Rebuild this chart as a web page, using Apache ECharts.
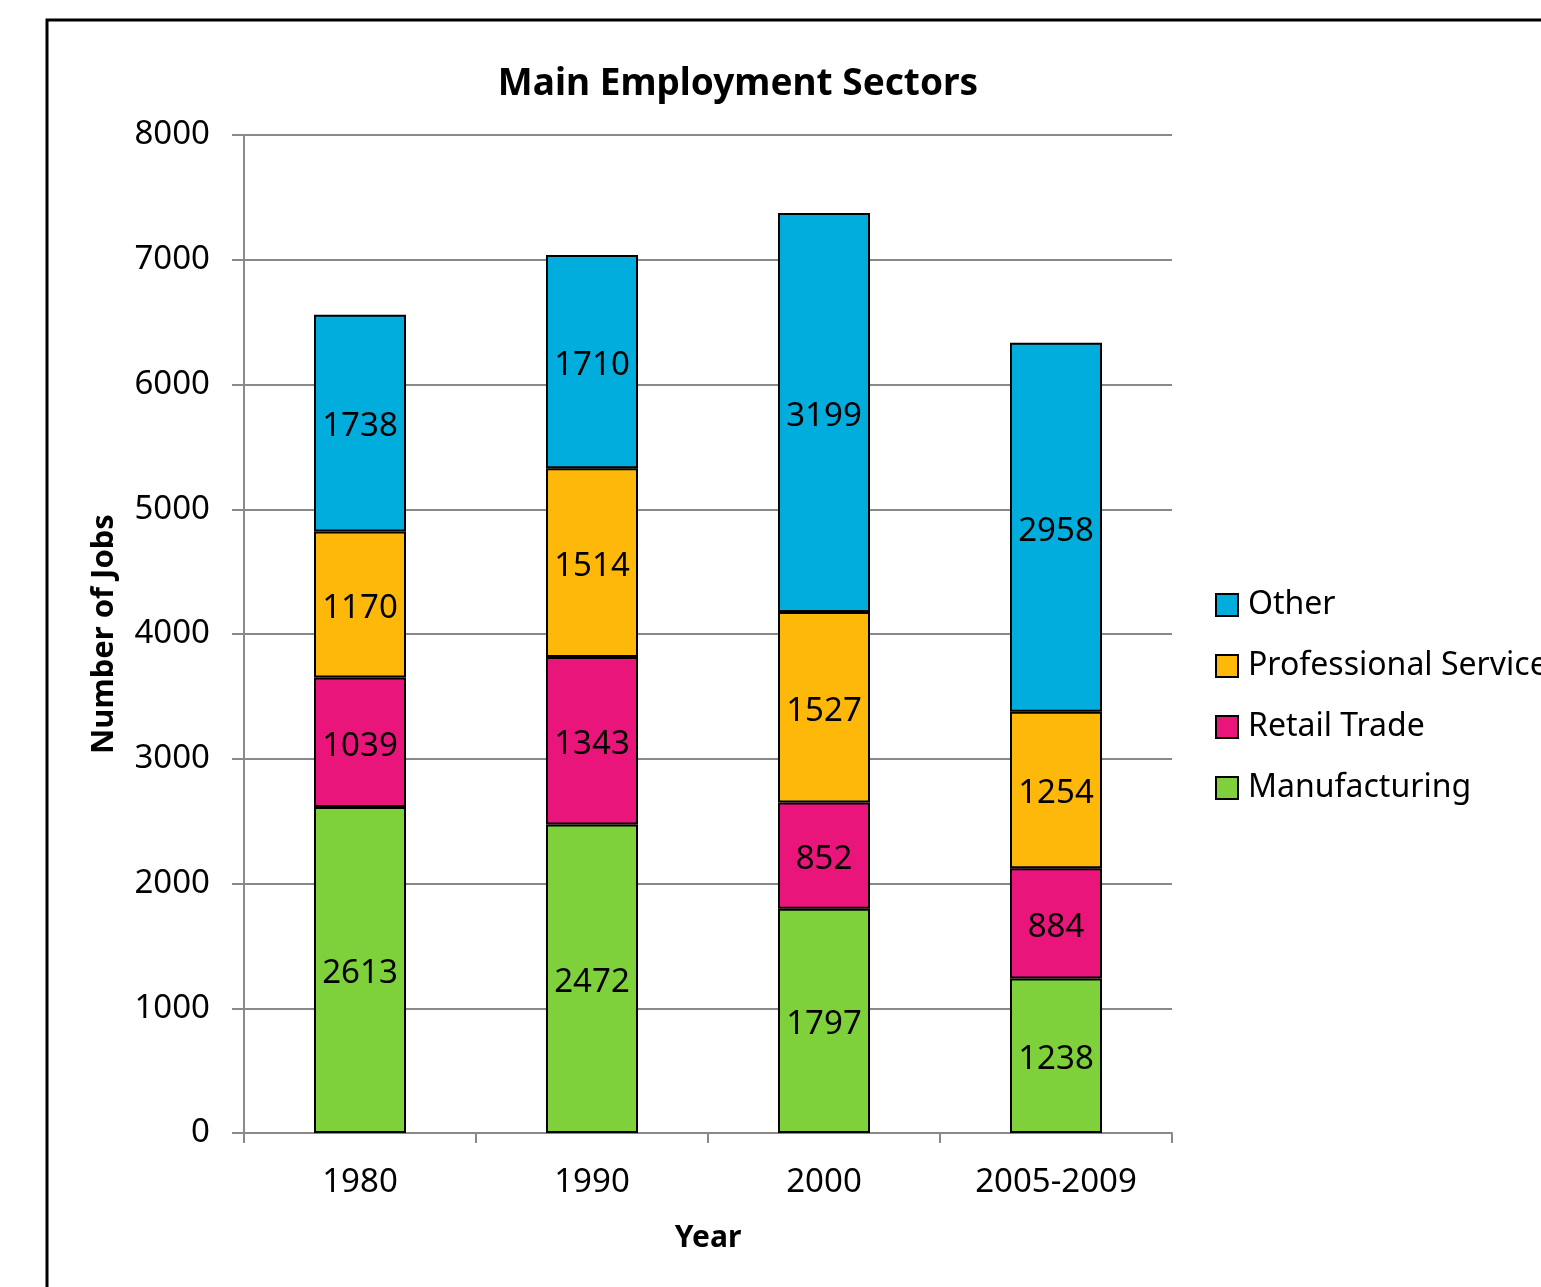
<!DOCTYPE html>
<html>
<head>
<meta charset="utf-8">
<script src="https://cdn.jsdelivr.net/npm/echarts@6/dist/echarts.min.js"></script>
<style>
  html, body { margin: 0; padding: 0; background: #fff; }
  #chart { width: 1541px; height: 1287px; }
</style>
</head>
<body>
<div id="chart"></div>
<script>
// categories and values
let years = ['1980', '1990', '2000', '2005-2009'];
let manufacturing = [2613, 2472, 1797, 1238];
let retailTrade = [1039, 1343, 852, 884];
let professional = [1170, 1514, 1527, 1254];
let other = [1738, 1710, 3199, 2958];
let yTicks = [0, 8000, 1000]; // min, max, interval

let fontName = 'Noto Sans';
let gridGray = '#898989';

function makeSeries(name, values, color) {
    return {
        name: name,
        type: 'bar',
        stack: 'jobs',
        barWidth: 92,
        data: values,
        itemStyle: {
            color: color,
            borderColor: '#000',
            borderWidth: 2
        },
        label: {
            show: true,
            position: 'inside',
            offset: [0, 4],
            color: '#000',
            fontSize: 33,
            fontFamily: fontName
        },
        emphasis: { disabled: true }
    };
}

let myChart = echarts.init(document.getElementById('chart'));

let option = {
    backgroundColor: '#fff',
    animation: false,
    title: {
        text: 'Main Employment Sectors',
        left: 733,
        textAlign: 'center',
        top: 61,
        textStyle: {
            fontFamily: fontName,
            fontWeight: 'bold',
            fontSize: 37,
            color: '#000'
        }
    },
    legend: {
        orient: 'vertical',
        left: 1215,
        top: 589,
        padding: 0,
        itemWidth: 22,
        itemHeight: 22,
        itemGap: 29,
        icon: 'rect',
        data: ['Other', 'Professional Services', 'Retail Trade', 'Manufacturing'],
        textStyle: {
            fontFamily: fontName,
            fontSize: 32,
            lineHeight: 32,
            padding: [0, 0, 0, 5],
            color: '#000'
        }
    },
    grid: {
        left: 244,
        right: 369,
        top: 135,
        bottom: 154
    },
    xAxis: {
        type: 'category',
        data: years,
        name: 'Year',
        nameLocation: 'middle',
        nameGap: 90,
        nameTextStyle: {
            fontFamily: fontName,
            fontWeight: 'bold',
            fontSize: 30,
            color: '#000'
        },
        axisLine: { lineStyle: { color: gridGray, width: 2 } },
        axisTick: { show: true, length: 10, lineStyle: { color: gridGray, width: 2 } },
        axisLabel: {
            margin: 33,
            fontFamily: fontName,
            fontSize: 33,
            color: '#000'
        }
    },
    yAxis: {
        type: 'value',
        min: yTicks[0],
        max: yTicks[1],
        interval: yTicks[2],
        name: 'Number of Jobs',
        nameLocation: 'middle',
        nameGap: 124,
        nameTextStyle: {
            fontFamily: fontName,
            fontWeight: 'bold',
            fontSize: 31,
            color: '#000'
        },
        axisLine: { show: true, lineStyle: { color: gridGray, width: 2 } },
        axisTick: { show: true, length: 12, lineStyle: { color: gridGray, width: 2 } },
        splitLine: { lineStyle: { color: gridGray, width: 2 } },
        axisLabel: {
            margin: 34,
            fontFamily: fontName,
            fontSize: 33,
            color: '#000',
            formatter: function (v) { return String(v); }
        }
    },
    graphic: [{
        type: 'rect',
        shape: { x: 47, y: 20, width: 1700, height: 1500 },
        style: { fill: 'none', stroke: '#000', lineWidth: 3 },
        silent: true
    }],
    series: [
        makeSeries('Manufacturing', manufacturing, '#7fd13b'),
        makeSeries('Retail Trade', retailTrade, '#ea157a'),
        makeSeries('Professional Services', professional, '#feb80a'),
        makeSeries('Other', other, '#00addc')
    ]
};

myChart.setOption(option);
</script>
</body>
</html>
